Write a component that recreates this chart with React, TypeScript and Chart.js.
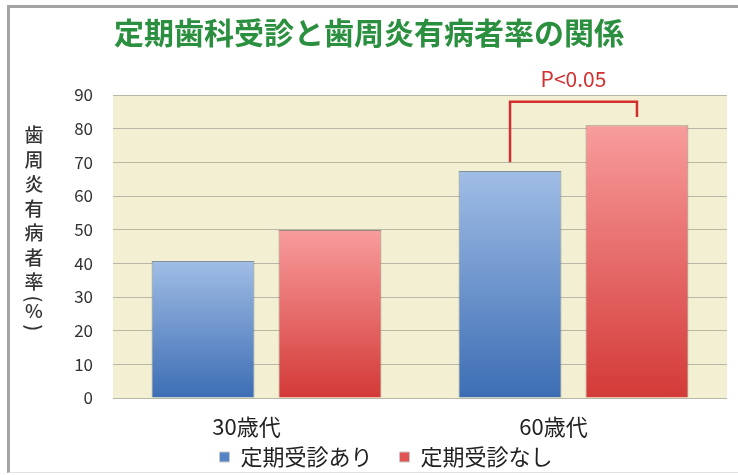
import React, { useEffect, useRef } from "react";
import { Chart, registerables } from "chart.js";

Chart.register(...registerables);

const chartTitle = "定期歯科受診と歯周炎有病者率の関係";
const yAxisTitleChars = ["歯", "周", "炎", "有", "病", "者", "率", "(", "%", ")"];
const categories = ["30歳代", "60歳代"];
const seriesNames = ["定期受診あり", "定期受診なし"];
const withCheckup = [40.7, 67.4];
const withoutCheckup = [49.9, 81];
const yMin = 0;
const yMax = 90;
const yStep = 10;
const significanceLabel = "P<0.05";
// bracket levels (axis values): left leg end, top bar, right leg end
const bracketLevels = [70, 88, 83.5];
const significanceLabelLevel = 94.6;

const FONT = '"Noto Sans CJK JP", "Noto Sans", sans-serif';

const blueTop = "#a0bde5";
const blueBottom = "#3c6db4";
const redTop = "#f89c9c";
const redBottom = "#d33a37";

const gradFill = (top: string, bottom: string) => (ctx: any) => {
  const chart = ctx.chart;
  const { chartArea, scales } = chart;
  if (!chartArea || ctx.type !== "data" || !scales.y) return bottom;
  const v = ctx.raw as number;
  const yTop = scales.y.getPixelForValue(v);
  const yBot = scales.y.getPixelForValue(0);
  if (!isFinite(yTop) || !isFinite(yBot) || yTop === yBot) return bottom;
  const g = chart.ctx.createLinearGradient(0, yTop, 0, yBot);
  g.addColorStop(0, top);
  g.addColorStop(1, bottom);
  return g;
};

const decorPlugin = {
  id: "decor",
  beforeDraw(chart: any) {
    const { ctx, chartArea } = chart;
    ctx.save();
    ctx.fillStyle = "#f2efd2";
    ctx.fillRect(chartArea.left, chartArea.top, chartArea.right - chartArea.left, chartArea.bottom - chartArea.top);
    ctx.restore();
  },
  afterDraw(chart: any) {
    const { ctx, chartArea, scales } = chart;
    ctx.save();
    // title
    ctx.fillStyle = "#2a8f3e";
    ctx.font = `bold 30px ${FONT}`;
    ctx.textAlign = "center";
    ctx.textBaseline = "middle";
    ctx.fillText(chartTitle, chart.width / 2, 33);

    // vertical y-axis title (stacked characters, brackets turned for vertical writing)
    ctx.fillStyle = "#333";
    ctx.font = `500 19px ${FONT}`;
    const offsets = [0, 24.5, 49, 73.5, 98, 122.5, 147, 164, 176, 193];
    const rotated = [false, false, false, false, false, false, false, true, false, true];
    const baseY = chartArea.top + 40;
    yAxisTitleChars.forEach((c, i) => {
      const cy = baseY + offsets[i];
      if (rotated[i]) {
        ctx.save();
        ctx.translate(34, cy);
        ctx.rotate(Math.PI / 2);
        ctx.fillText(c, 0, 0);
        ctx.restore();
      } else {
        ctx.fillText(c, 34, cy);
      }
    });

    // significance bracket
    const m0 = chart.getDatasetMeta(0).data[1];
    const m1 = chart.getDatasetMeta(1).data[1];
    if (m0 && m1) {
      const y = scales.y;
      const xL = m0.x;
      const xR = m1.x;
      ctx.strokeStyle = "#d2302f";
      ctx.lineWidth = 2.5;
      ctx.beginPath();
      ctx.moveTo(xL, y.getPixelForValue(bracketLevels[0]));
      ctx.lineTo(xL, y.getPixelForValue(bracketLevels[1]));
      ctx.lineTo(xR, y.getPixelForValue(bracketLevels[1]));
      ctx.lineTo(xR, y.getPixelForValue(bracketLevels[2]));
      ctx.stroke();
      ctx.fillStyle = "#d2302f";
      ctx.font = `21px ${FONT}`;
      ctx.fillText(significanceLabel, (xL + xR) / 2, y.getPixelForValue(significanceLabelLevel));
    }
    ctx.restore();
  },
};

export default function App() {
  const ref = useRef<HTMLCanvasElement | null>(null);
  useEffect(() => {
    if (!ref.current) return;
    const chart = new Chart(ref.current, {
      type: "bar",
      data: {
        labels: categories,
        datasets: [
          {
            label: seriesNames[0],
            data: withCheckup,
            backgroundColor: gradFill(blueTop, blueBottom),
            borderColor: "rgba(95,110,130,0.75)",
            borderWidth: 1,
            barPercentage: 0.81,
            categoryPercentage: 0.827,
          },
          {
            label: seriesNames[1],
            data: withoutCheckup,
            backgroundColor: gradFill(redTop, redBottom),
            borderColor: "rgba(130,100,100,0.75)",
            borderWidth: 1,
            barPercentage: 0.81,
            categoryPercentage: 0.827,
          },
        ],
      },
      options: {
        responsive: false,
        animation: false,
        devicePixelRatio: 1,
        layout: { padding: { left: 45, right: 11, top: 95, bottom: -3 } },
        plugins: {
          title: { display: false },
          tooltip: { enabled: false },
          legend: {
            position: "bottom",
            labels: {
              boxWidth: 10,
              boxHeight: 10,
              padding: 5,
              color: "#222",
              font: { family: FONT, size: 22 },
              generateLabels: () =>
                seriesNames.map((n, i) => ({
                  text: i < seriesNames.length - 1 ? n + "\u3000" : n,
                  fillStyle: i === 0 ? "#5484c6" : "#e25454",
                  strokeStyle: "#c8c8c8",
                  lineWidth: 1,
                  datasetIndex: i,
                  hidden: false,
                  fontColor: "#222",
                })),
            },
          },
        },
        scales: {
          x: {
            grid: { display: false, drawTicks: false },
            border: { display: false },
            ticks: {
              color: "#222",
              font: { family: FONT, size: 22 },
              padding: 15,
              labelOffset: -20,
            },
            afterFit: (s: any) => {
              s.height = 43;
            },
          },
          y: {
            min: yMin,
            max: yMax,
            grid: { color: "#b9b7a6", drawTicks: false },
            border: { display: false },
            ticks: {
              stepSize: yStep,
              color: "#333",
              font: { family: FONT, size: 17 },
              padding: 20,
            },
            afterFit: (s: any) => {
              s.width = 68;
            },
          },
        },
      },
      plugins: [decorPlugin],
    });
    return () => chart.destroy();
  }, []);

  return (
    <div style={{ position: "fixed", left: 0, top: 0, width: 738, height: 475, background: "#fff", overflow: "hidden" }}>
      <div
        style={{
          position: "absolute",
          left: 7,
          top: 5,
          width: 731,
          height: 468,
          boxSizing: "border-box",
          borderLeft: "3px solid #a4a4a4",
          borderTop: "3px solid #a4a4a4",
          borderBottom: "1px solid #e2e2e2",
        }}
      />
      <canvas ref={ref} width={738} height={475} style={{ position: "absolute", left: 0, top: 0, width: 738, height: 475 }} />
    </div>
  );
}
